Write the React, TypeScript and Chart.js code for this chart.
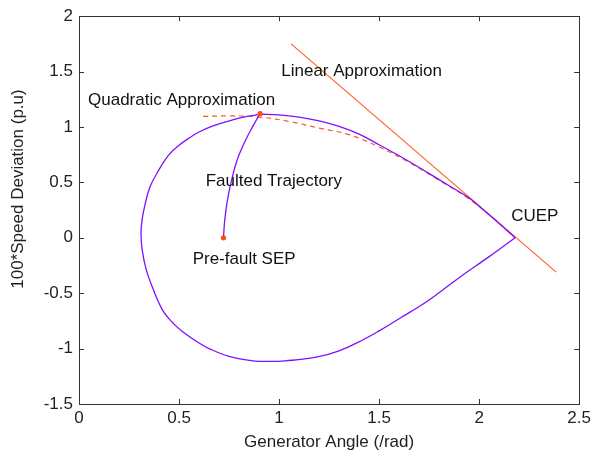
import React, { useEffect, useRef } from "react";
import { Chart, registerables } from "chart.js";

Chart.register(...registerables);

// ---- data ----
const xTicks = [0, 0.5, 1, 1.5, 2, 2.5];
const yTicks = [-1.5, -1, -0.5, 0, 0.5, 1, 1.5, 2];

// post-fault trajectory, upper branch: clearing point -> CUEP
const upperX = [0.905, 1.0, 1.1, 1.2, 1.3, 1.4, 1.5, 1.6, 1.7, 1.8, 1.9, 1.95, 2.0, 2.1, 2.18];
const upperY = [1.115, 1.11, 1.09, 1.055, 1.005, 0.935, 0.84, 0.74, 0.635, 0.525, 0.415, 0.36, 0.285, 0.13, 0.0];

// post-fault trajectory, lower branch: CUEP -> around -> clearing point
const lowerX = [2.18, 2.05, 1.9, 1.735, 1.6, 1.5, 1.42, 1.3, 1.18, 1.03, 0.95, 0.87, 0.75, 0.65, 0.6, 0.52, 0.47, 0.42, 0.37, 0.335, 0.315, 0.31,
  0.315, 0.33, 0.355, 0.395, 0.45, 0.5, 0.55, 0.6, 0.67, 0.76, 0.84, 0.905];
const lowerY = [0.0, -0.17, -0.36, -0.58, -0.73, -0.84, -0.92, -1.02, -1.08, -1.11, -1.115, -1.11, -1.07, -1.0, -0.95, -0.85, -0.77, -0.66, -0.46, -0.28, -0.1, 0.04,
  0.16, 0.3, 0.46, 0.6, 0.75, 0.835, 0.9, 0.955, 1.01, 1.06, 1.095, 1.115];

// faulted trajectory
const faultX = [0.722, 0.728, 0.74, 0.76, 0.79, 0.835, 0.87, 0.905];
const faultY = [0.0, 0.15, 0.32, 0.5, 0.7, 0.89, 1.01, 1.12];

// quadratic approximation (dashed)
const quadX = [0.62, 0.75, 0.9, 1.05, 1.2, 1.35, 1.5, 1.65, 1.8, 1.95, 2.07, 2.18];
const quadY = [1.095, 1.1, 1.09, 1.05, 0.99, 0.93, 0.82, 0.68, 0.52, 0.35, 0.18, 0.0];

// linear approximation
const linX = [1.06, 2.385];
const linY = [1.75, -0.31];

// marked points: pre-fault SEP, fault clearing point
const dotX = [0.722, 0.905];
const dotY = [0.0, 1.12];

// annotation texts and their anchors (data coords of left edge / vertical centre)
const noteText = ["Linear Approximation", "Quadratic Approximation", "Faulted Trajectory", "Pre-fault SEP", "CUEP"];
const noteX = [1.011, 0.045, 0.633, 0.568, 2.16];
const noteY = [1.503, 1.237, 0.51, -0.198, 0.191];

const xTitle = "Generator Angle (/rad)";
const yTitle = "100*Speed Deviation (p.u)";

const zip = (xs: number[], ys: number[]) => xs.map((x, i) => ({ x, y: ys[i] }));

const PURPLE = "#7f10ff";
const ORANGE = "#ff5a1e";
const FONT = "'Liberation Sans', Arial, sans-serif";

const framePlugin = {
  id: "frame",
  afterDraw(chart: any) {
    const { ctx, chartArea, scales } = chart;
    const { left, right, top, bottom } = chartArea;
    ctx.save();
    ctx.strokeStyle = "#333";
    ctx.lineWidth = 1;
    ctx.strokeRect(Math.round(left) + 0.5, Math.round(top) + 0.5, Math.round(right - left), Math.round(bottom - top));
    const tl = 5;
    ctx.beginPath();
    xTicks.forEach((v) => {
      const p = Math.round(scales.x.getPixelForValue(v)) + 0.5;
      ctx.moveTo(p, bottom);
      ctx.lineTo(p, bottom - tl);
      ctx.moveTo(p, top);
      ctx.lineTo(p, top + tl);
    });
    yTicks.forEach((v) => {
      const p = Math.round(scales.y.getPixelForValue(v)) + 0.5;
      ctx.moveTo(left, p);
      ctx.lineTo(left + tl, p);
      ctx.moveTo(right, p);
      ctx.lineTo(right - tl, p);
    });
    ctx.stroke();

    ctx.fillStyle = "#111";
    ctx.font = `17px ${FONT}`;
    ctx.textBaseline = "middle";
    ctx.textAlign = "left";
    noteText.forEach((t, i) => {
      ctx.fillText(t, scales.x.getPixelForValue(noteX[i]), scales.y.getPixelForValue(noteY[i]));
    });

    ctx.fillStyle = "#222";
    ctx.translate(18, 189);
    ctx.rotate(-Math.PI / 2);
    ctx.textAlign = "center";
    ctx.fillText(yTitle, 0, 0);
    ctx.restore();
  },
};

export default function App() {
  const ref = useRef<HTMLCanvasElement | null>(null);

  useEffect(() => {
    document.body.style.margin = "0";
    const canvas = ref.current;
    if (!canvas) return;
    Chart.defaults.font.family = FONT;
    const line = (xs: number[], ys: number[], color: string, width: number, extra: any = {}) => ({
      data: zip(xs, ys),
      showLine: true,
      borderColor: color,
      borderWidth: width,
      pointRadius: 0,
      tension: 0.4,
      ...extra,
    });
    const chart = new Chart(canvas, {
      type: "scatter",
      data: {
        datasets: [
          {
            data: zip(dotX, dotY),
            showLine: false,
            pointRadius: 2.6,
            pointBackgroundColor: "#ff4a10",
            pointBorderWidth: 0,
          },
          line(faultX, faultY, PURPLE, 1.3),
          line(upperX, upperY, PURPLE, 1.3),
          line(lowerX, lowerY, PURPLE, 1.3),
          line(quadX, quadY, ORANGE, 1.2, { borderDash: [5, 4] }),
          line(linX, linY, ORANGE, 1.1, { tension: 0 }),
        ],
      },
      options: {
        animation: false,
        responsive: false,
        devicePixelRatio: 1,
        layout: { padding: { top: 9, right: 14, left: 0, bottom: 0 } },
        plugins: { legend: { display: false }, tooltip: { enabled: false } },
        scales: {
          x: {
            type: "linear",
            min: 0,
            max: 2.5,
            grid: { display: false, drawTicks: false },
            border: { display: false },
            afterBuildTicks: (s: any) => {
              s.ticks = xTicks.map((v) => ({ value: v }));
            },
            afterFit: (s: any) => {
              s.height = 52;
            },
            ticks: {
              font: { size: 17 },
              color: "#222",
              padding: 4,
              maxRotation: 0,
              callback: (v: any) => String(v),
            },
            title: {
              display: true,
              text: xTitle,
              font: { size: 17 },
              color: "#222",
              padding: { top: 0, bottom: 3 },
            },
          },
          y: {
            type: "linear",
            min: -1.5,
            max: 2,
            grid: { display: false, drawTicks: false },
            border: { display: false },
            afterBuildTicks: (s: any) => {
              s.ticks = yTicks.map((v) => ({ value: v }));
            },
            afterFit: (s: any) => {
              s.width = 79;
            },
            ticks: {
              font: { size: 17 },
              color: "#222",
              padding: 6,
              callback: (v: any) => String(v),
            },
          },
        },
      },
      plugins: [framePlugin],
    } as any);
    return () => chart.destroy();
  }, []);

  return (
    <div style={{ position: "absolute", left: 0, top: 0, width: 595, height: 456, background: "#fff" }}>
      <canvas ref={ref} width={595} height={456} />
    </div>
  );
}
